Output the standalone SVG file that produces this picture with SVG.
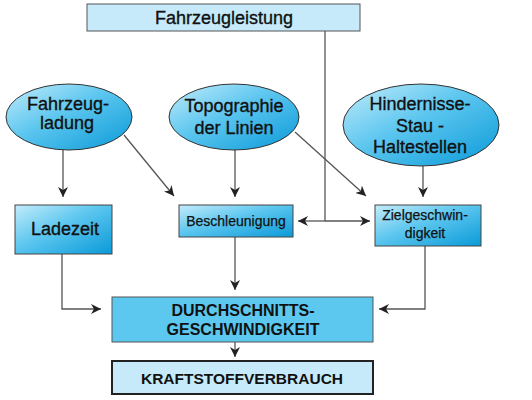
<svg xmlns="http://www.w3.org/2000/svg" width="532" height="400" viewBox="0 0 532 400">
<defs>
<linearGradient id="g" x1="0" y1="0" x2="1" y2="1">
<stop offset="0" stop-color="#c4ecfb"/>
<stop offset="0.45" stop-color="#5cc6ef"/>
<stop offset="1" stop-color="#0a9ad8"/>
</linearGradient>
<marker id="ah" viewBox="0 0 10 10" refX="10" refY="5" markerWidth="10" markerHeight="10" markerUnits="userSpaceOnUse" orient="auto">
<path d="M0,0 L10,5 L0,10 L3,5 Z" fill="#222"/>
</marker>
<style>
.t{font-family:"Liberation Sans",Arial,sans-serif;fill:#111;text-anchor:middle;stroke:#111;stroke-width:0.35}
.n{font-size:18px}
.s{font-size:14px;stroke-width:0.25}
.b{font-size:16px;font-weight:bold;stroke-width:0}
.el{fill:url(#g);stroke:#333;stroke-width:1}
.bx{fill:url(#g);stroke:#444;stroke-width:1}
.lt{fill:#c6eafa;stroke:#555;stroke-width:1}
.c{fill:none;stroke:#555;stroke-width:1.3}
</style>
</defs>
<g id="connectors">
<polyline class="c" points="325,31 325,221"/>
<line class="c" x1="325" y1="221" x2="298" y2="221" marker-end="url(#ah)"/>
<line class="c" x1="325" y1="221" x2="370" y2="221" marker-end="url(#ah)"/>
<line class="c" x1="63" y1="150" x2="63" y2="197" marker-end="url(#ah)"/>
<line class="c" x1="124" y1="135" x2="174" y2="196" marker-end="url(#ah)"/>
<line class="c" x1="235" y1="150" x2="235" y2="197" marker-end="url(#ah)"/>
<line class="c" x1="295" y1="132" x2="366" y2="196" marker-end="url(#ah)"/>
<line class="c" x1="423" y1="166" x2="423" y2="197" marker-end="url(#ah)"/>
<polyline class="c" points="62,254 62,309 101,309" marker-end="url(#ah)"/>
<line class="c" x1="235" y1="237" x2="235" y2="290" marker-end="url(#ah)"/>
<polyline class="c" points="425,246 425,309 379,309" marker-end="url(#ah)"/>
<line class="c" x1="235" y1="342" x2="235" y2="357" marker-end="url(#ah)"/>
</g>
<g id="fahrzeugleistung">
<rect class="lt" x="87" y="4" width="273" height="27"/>
<text class="t n" x="224" y="24">Fahrzeugleistung</text>
</g>
<g id="fahrzeugladung">
<ellipse class="el" cx="69" cy="117" rx="63" ry="33"/>
<text class="t n" x="68" y="110">Fahrzeug-</text>
<text class="t n" x="67" y="129">ladung</text>
</g>
<g id="topographie">
<ellipse class="el" cx="234" cy="117" rx="65" ry="33"/>
<text class="t n" x="234" y="112">Topographie</text>
<text class="t n" x="234" y="134">der Linien</text>
</g>
<g id="hindernisse">
<ellipse class="el" cx="421" cy="125" rx="78" ry="41"/>
<text class="t n" x="420" y="110">Hindernisse-</text>
<text class="t n" x="420" y="132">Stau -</text>
<text class="t n" x="420" y="153">Haltestellen</text>
</g>
<g id="ladezeit">
<rect class="bx" x="15" y="205" width="97" height="49"/>
<text class="t n" x="65" y="235">Ladezeit</text>
</g>
<g id="beschleunigung">
<rect class="bx" x="179" y="205" width="114" height="32"/>
<text class="t s" x="236" y="226">Beschleunigung</text>
</g>
<g id="zielgeschwindigkeit">
<rect class="bx" x="375" y="205" width="106" height="41"/>
<text class="t s" x="425" y="220">Zielgeschwin-</text>
<text class="t s" x="425" y="238">digkeit</text>
</g>
<g id="durchschnitt">
<rect x="112" y="297" width="261" height="45" fill="#5cc8f0" stroke="#555" stroke-width="1"/>
<text class="t b" x="243" y="316">DURCHSCHNITTS-</text>
<text class="t b" x="243" y="335">GESCHWINDIGKEIT</text>
</g>
<g id="kraftstoff">
<rect x="112" y="361" width="261" height="33" fill="#c6eafa" stroke="#222" stroke-width="2"/>
<text class="t b" x="242" y="384" style="font-size:15.5px">KRAFTSTOFFVERBRAUCH</text>
</g>
</svg>
